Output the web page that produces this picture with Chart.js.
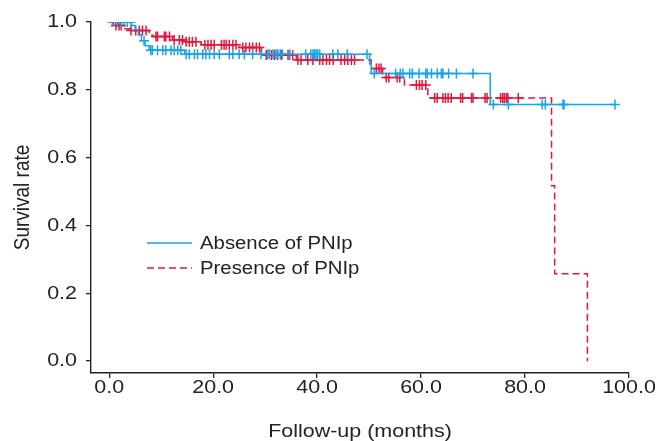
<!DOCTYPE html>
<html>
<head>
<meta charset="utf-8">
<script src="https://cdn.jsdelivr.net/npm/chart.js@4/dist/chart.umd.min.js"></script>
<style>
  html, body { margin: 0; padding: 0; background: #fff; }
  #wrap { position: relative; width: 656px; height: 441px; overflow: hidden; }
  #c { position: absolute; left: 0; top: 0; }
  .lg { position: absolute; font-family: "Liberation Sans", Arial, sans-serif; font-size: 18px; color: #222; line-height: 20px; white-space: nowrap; transform: scaleX(1.13); transform-origin: 0 50%; }
  svg.lgl { position: absolute; overflow: visible; }
</style>
</head>
<body>
<div id="wrap">
  <canvas id="c" width="656" height="441"></canvas>
  <svg class="lgl" style="left:147px;top:243px" width="45" height="2"><line x1="0" y1="0" x2="45" y2="0" stroke="#18a3e4" stroke-width="1.4"/></svg>
  <div class="lg" id="lg0" style="left:200px;top:233px"></div>
  <svg class="lgl" style="left:147px;top:268px" width="45" height="2"><line x1="0" y1="0" x2="45" y2="0" stroke="#e3173d" stroke-width="1.4" stroke-dasharray="7,4"/></svg>
  <div class="lg" id="lg1" style="left:200px;top:258px"></div>
</div>
<script>
// ---- data ----
const seriesNames = ["Absence of PNIp", "Presence of PNIp"];

// Kaplan-Meier step curve, Absence of PNIp (months, survival)
const absenceTimes  = [0, 4.3, 5.0, 5.6, 6.2, 6.9, 7.7, 14.5, 50.1, 50.4, 73.3, 97.3];
const absenceSurv   = [1.0, 0.99, 0.978, 0.962, 0.945, 0.93, 0.917, 0.905, 0.876, 0.848, 0.757, 0.757];
// censored observations, Absence of PNIp (months)
const absenceCensor = [0.6, 1.6, 2.3, 2.9, 3.5, 4.2, 6.7,
  8.0, 8.3, 9.3, 10.3, 10.9, 11.9, 12.5, 13.2, 13.8,
  14.8, 15.4, 16.4, 17.0, 18.0, 18.6, 19.3, 20.2, 21.2, 23.1, 23.8, 25.0, 26.0, 27.6, 29.2,
  30.5, 30.8, 31.5, 32.1, 32.4, 32.9, 33.3, 34.7, 37.8, 38.8, 39.2, 39.5, 39.8, 40.1, 40.5,
  43.0, 44.0, 45.8, 49.6,
  51.0, 55.1, 56.0, 56.5, 57.8, 58.3, 59.6, 60.9, 61.2, 62.0, 63.1, 63.9, 64.2, 65.3, 66.8, 70.0,
  73.9, 76.8, 83.3, 83.9, 87.3, 87.5, 97.3];

// Kaplan-Meier step curve, Presence of PNIp
const presenceTimes = [0, 0.8, 3.0, 4.0, 7.7, 8.3, 12.2, 14.5, 17.7, 25.0, 29.3, 36.0, 50.4, 52.6, 56.8, 61.3, 85.1, 85.7, 92.0];
const presenceSurv  = [1.0, 0.99, 0.98, 0.975, 0.962, 0.957, 0.947, 0.942, 0.933, 0.925, 0.903, 0.888, 0.863, 0.836, 0.814, 0.776, 0.517, 0.258, 0.0];
const presenceCensor = [1.3, 1.9, 2.3, 4.2, 5.1, 5.8, 6.4, 7.1,
  9.0, 9.3, 10.6, 10.9, 11.6, 12.5, 13.5, 14.1, 14.8, 15.4, 16.0, 16.7,
  18.4, 19.0, 19.6, 20.2, 21.6, 22.1, 22.5, 23.1, 23.8, 24.4,
  25.7, 26.3, 27.0, 27.6, 28.3, 28.9,
  30.2, 31.2, 31.8, 32.4, 33.1, 34.4, 34.7, 35.3,
  36.3, 36.9, 38.2, 39.2, 40.5, 41.1, 41.8, 42.4, 43.1, 44.6, 45.3, 45.9, 46.6, 47.2,
  51.4, 51.9, 52.3, 53.3, 53.8, 55.4, 55.9, 59.1, 59.7, 60.2, 60.9,
  62.6, 63.1, 64.2, 64.7, 65.2, 65.8, 67.6, 68.0, 69.7, 70.0, 72.3, 72.7,
  75.3, 75.7, 76.0, 76.4, 76.7, 78.7];

// axis ticks
const xTickValues = [0, 20, 40, 60, 80, 100];
const yTickValues = [0.0, 0.2, 0.4, 0.6, 0.8, 1.0];
const xTitle = "Follow-up (months)";
const yTitle = "Survival rate";

// ---- build ----
const BLUE = "#18a3e4";
const RED = "#e3173d";
const FONT = "'Liberation Sans', Arial, sans-serif";
const TEXT_STRETCH = 1.13; // reference text is slightly wider than plain Arial

function stepPoints(times, surv) {
  return times.map((t, i) => ({ x: t, y: surv[i] }));
}
// place a censor mark on the curve at time t
function onCurve(times, surv, t) {
  let v = surv[0];
  for (let i = 0; i < times.length; i++) { if (times[i] <= t) v = surv[i]; }
  return v;
}
function censorPoints(times, surv, cens) {
  return cens.map(t => ({ x: t, y: onCurve(times, surv, t) }));
}

document.getElementById('lg0').textContent = seriesNames[0];
document.getElementById('lg1').textContent = seriesNames[1];

const canvas = document.getElementById('c');
const ctx = canvas.getContext('2d');
// draw canvas text slightly stretched horizontally (on the page), like the reference
const origFillText = ctx.fillText;
ctx.fillText = function (t, x, y) {
  this.save();
  this.translate(x, y);
  const m = this.getTransform();
  if (Math.abs(m.b) > 0.5) this.scale(1, TEXT_STRETCH); else this.scale(TEXT_STRETCH, 1);
  origFillText.call(this, t, 0, 0);
  this.restore();
};

const axisColor = "#222";
const tickFont = { family: FONT, size: 19 };
const titleFont = { family: FONT, size: 19, lineHeight: 1.0 };

new Chart(canvas, {
  type: 'scatter',
  data: {
    datasets: [
      { label: seriesNames[0], data: stepPoints(absenceTimes, absenceSurv), showLine: true, stepped: true,
        borderColor: BLUE, borderWidth: 1.5, pointRadius: 0, fill: false, order: 1 },
      { label: seriesNames[0] + " censored", data: censorPoints(absenceTimes, absenceSurv, absenceCensor), showLine: false,
        pointStyle: 'cross', pointRadius: 5, pointBorderWidth: 1.5, borderColor: BLUE, backgroundColor: BLUE, order: 0 },
      { label: seriesNames[1], data: stepPoints(presenceTimes, presenceSurv), showLine: true, stepped: true,
        borderColor: RED, borderWidth: 1.5, borderDash: [7, 4], pointRadius: 0, fill: false, order: 3 },
      { label: seriesNames[1] + " censored", data: censorPoints(presenceTimes, presenceSurv, presenceCensor), showLine: false,
        pointStyle: 'cross', pointRadius: 5, pointBorderWidth: 1.5, borderColor: RED, backgroundColor: RED, order: 2 }
    ]
  },
  options: {
    responsive: false,
    animation: false,
    devicePixelRatio: 1,
    layout: { padding: { top: 22, right: 27, left: 0, bottom: 0 } },
    plugins: { legend: { display: false }, tooltip: { enabled: false } },
    scales: {
      x: {
        type: 'linear', min: -3.5, max: 100,
        afterBuildTicks: s => { s.ticks = xTickValues.map(v => ({ value: v })); },
        afterFit: s => { s.height = 68; },
        ticks: { callback: v => Number(v).toFixed(1), color: axisColor, font: tickFont, padding: -2, maxRotation: 0 },
        grid: { display: true, drawOnChartArea: false, drawTicks: true, tickLength: 5, color: axisColor, lineWidth: 1.3 },
        border: { display: true, color: axisColor, width: 1.4 },
        title: { display: true, text: xTitle, color: axisColor, font: titleFont, padding: { top: 0, bottom: 0 } }
      },
      y: {
        type: 'linear', min: -0.035, max: 1.0,
        afterBuildTicks: s => { s.ticks = yTickValues.map(v => ({ value: v })); },
        afterFit: s => { s.width = 91; },
        ticks: { callback: v => Number(v).toFixed(1), color: axisColor, font: tickFont, padding: 9 },
        grid: { display: true, drawOnChartArea: false, drawTicks: true, tickLength: 5, color: axisColor, lineWidth: 1.3 },
        border: { display: true, color: axisColor, width: 1.4 },
        title: { display: true, text: yTitle, color: axisColor, font: titleFont, padding: { top: 14, bottom: 0 } }
      }
    }
  }
});
</script>
</body>
</html>
